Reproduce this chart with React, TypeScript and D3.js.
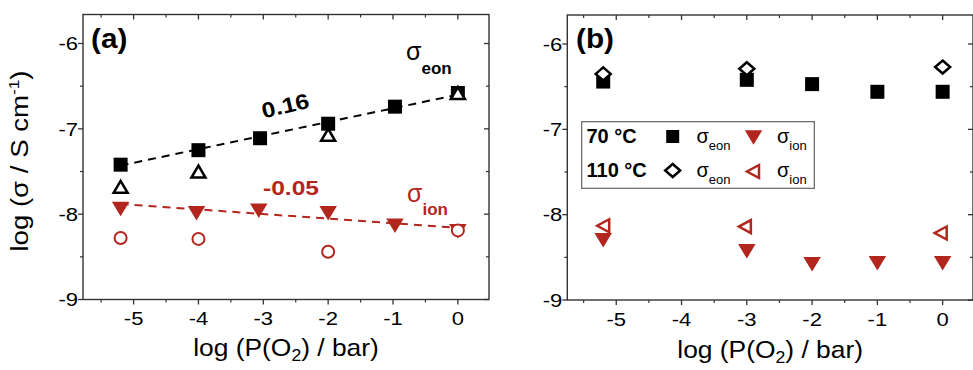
import React from "react";
import * as d3 from "d3";

const RED = "#b3261e";
const FONT = "'Liberation Sans', Arial, Helvetica, sans-serif";
const AXIS = "#333";

// ---------- Panel (a) data ----------
const aEonSqX = [-5.2, -4, -3.05, -2, -0.97, 0];
const aEonSqY = [-7.42, -7.25, -7.11, -6.94, -6.74, -6.58];
const aEonTriX = [-5.2, -4, -2, 0];
const aEonTriY = [-7.68, -7.5, -7.07, -6.58];
const aIonTriX = [-5.2, -4.03, -3.07, -2, -0.97, 0];
const aIonTriY = [-7.94, -7.99, -7.96, -7.99, -8.135, -8.2];
const aIonCircX = [-5.2, -4, -2, 0];
const aIonCircY = [-8.28, -8.29, -8.44, -8.19];
const aFitEonX = [-5.2, 0];
const aFitEonY = [-7.43, -6.6];
const aFitIonX = [-5.2, 0];
const aFitIonY = [-7.88, -8.16];
const slopeLabels = ["0.16", "-0.05"];

// ---------- Panel (b) data ----------
const bEon70X = [-5.2, -3, -2, -1, 0];
const bEon70Y = [-6.44, -6.42, -6.47, -6.56, -6.56];
const bEon110X = [-5.2, -3, 0];
const bEon110Y = [-6.35, -6.29, -6.27];
const bIon70X = [-5.2, -3, -2, -1, 0];
const bIon70Y = [-8.3, -8.43, -8.58, -8.57, -8.57];
const bIon110X = [-5.2, -3.03, -0.03];
const bIon110Y = [-8.13, -8.14, -8.215];
const legendTemps = ["70 °C", "110 °C"];

// ---------- ticks ----------
const xTicks = [-5, -4, -3, -2, -1, 0];
const xMinor = [-5.5, -4.5, -3.5, -2.5, -1.5, -0.5];
const yTicks = [-9, -8, -7, -6];
const yMinor = [-8.5, -7.5, -6.5];

// ---------- marker paths ----------
const sq = (s: number) => `M${-s / 2},${-s / 2}h${s}v${s}h${-s}Z`;
const triDown = (w: number, h: number) => `M${-w / 2},${-h / 2}L${w / 2},${-h / 2}L0,${h / 2}Z`;
const triUp = (w: number, h: number) => `M${-w / 2},${h / 2}L${w / 2},${h / 2}L0,${-h / 2}Z`;
const triLeft = (w: number, h: number) => `M${w / 2},${-h / 2}L${w / 2},${h / 2}L${-w / 2},0Z`;
const diamond = (w: number, h: number) => `M0,${-h / 2}L${w / 2},0L0,${h / 2}L${-w / 2},0Z`;

function T(props: any) {
  const { x, y, sx = 1, rot = 0, anchor = "start", size, weight = "normal", fill = "#000", children } = props;
  return (
    <g transform={`translate(${x},${y}) rotate(${rot}) scale(${sx},1)`}>
      <text textAnchor={anchor} fontSize={size} fontWeight={weight} fill={fill} fontFamily={FONT}>
        {children}
      </text>
    </g>
  );
}

function Marks(props: any) {
  const { xs, ys, x, y, d, fill, stroke = "none", sw = 0 } = props;
  return (
    <g>
      {xs.map((v: number, i: number) => (
        <path
          key={i}
          d={d}
          transform={`translate(${x(v)},${y(ys[i])})`}
          fill={fill}
          stroke={stroke}
          strokeWidth={sw}
          strokeLinejoin="miter"
        />
      ))}
    </g>
  );
}

function Frame(props: any) {
  const { x, y, L, R, Tp, B, titleY, tickLabelY } = props;
  const maj = 5;
  const min = 3;
  return (
    <g>
      <rect x={L} y={Tp} width={R - L} height={B - Tp} fill="none" stroke={AXIS} strokeWidth={1.4} />
      {xTicks.map((t) => (
        <g key={"xt" + t}>
          <line x1={x(t)} x2={x(t)} y1={B} y2={B + maj} stroke={AXIS} strokeWidth={1.3} />
          <line x1={x(t)} x2={x(t)} y1={Tp} y2={Tp + maj} stroke={AXIS} strokeWidth={1.3} />
          <T x={x(t)} y={tickLabelY} size={19} sx={1.16} anchor="middle">
            {t === 0 ? "0" : String(t)}
          </T>
        </g>
      ))}
      {xMinor.map((t) => (
        <g key={"xm" + t}>
          <line x1={x(t)} x2={x(t)} y1={B} y2={B + min} stroke={AXIS} strokeWidth={1.2} />
          <line x1={x(t)} x2={x(t)} y1={Tp} y2={Tp + min} stroke={AXIS} strokeWidth={1.2} />
        </g>
      ))}
      {yTicks.map((t) => (
        <g key={"yt" + t}>
          <line x1={L - maj} x2={L} y1={y(t)} y2={y(t)} stroke={AXIS} strokeWidth={1.3} />
          <line x1={R - maj} x2={R} y1={y(t)} y2={y(t)} stroke={AXIS} strokeWidth={1.3} />
          <T x={L - 5} y={y(t) + 6.8} size={19} sx={1.16} anchor="end">
            {String(t)}
          </T>
        </g>
      ))}
      {yMinor.map((t) => (
        <g key={"ym" + t}>
          <line x1={L - min} x2={L} y1={y(t)} y2={y(t)} stroke={AXIS} strokeWidth={1.2} />
          <line x1={R - min} x2={R} y1={y(t)} y2={y(t)} stroke={AXIS} strokeWidth={1.2} />
        </g>
      ))}
      <T x={(L + R) / 2} y={titleY} size={24} sx={1.1} anchor="middle">
        <tspan>log (P(O</tspan>
        <tspan fontSize={16} dy={5}>2</tspan>
        <tspan dy={-5}>) / bar)</tspan>
      </T>
    </g>
  );
}

export default function App() {
  // Panel (a)
  const aL = 83, aR = 489, aT = 14.5, aB = 299.5;
  const xa = d3.scaleLinear().domain([-5.78, 0.48]).range([aL, aR]);
  const ya = d3.scaleLinear().domain([-9, -5.66]).range([aB, aT]);
  // Panel (b)
  const bL = 567.3, bR = 973, bT = 15, bB = 300;
  const xb = d3.scaleLinear().domain([-5.75, 0.465]).range([bL, bR]);
  const yb = d3.scaleLinear().domain([-9, -5.66]).range([bB, bT]);

  const lineA = (xs: number[], ys: number[]) =>
    d3.line<number>().x((d) => xa(d)).y((_, i) => ya(ys[i]))(xs) || "";

  const sqP = sq(14);
  const tdP = triDown(17.5, 14.5);
  const tuP = triUp(14, 12);
  const tlP = triLeft(12, 13);
  const diP = diamond(15, 13);

  return (
    <svg
      width={973}
      height={370}
      viewBox="0 0 973 370"
      style={{ position: "absolute", left: 0, top: 0, background: "#fff" }}
    >
      <rect x={0} y={0} width={973} height={370} fill="#fff" />

      {/* ----- Panel (a) ----- */}
      <Frame x={xa} y={ya} L={aL} R={aR} Tp={aT} B={aB} titleY={356} tickLabelY={325} />
      <T x={28} y={161} rot={-90} size={24} sx={1.15} anchor="middle">
        <tspan>log (σ / S cm</tspan>
        <tspan fontSize={15} dy={-9}>-1</tspan>
        <tspan dy={9}>)</tspan>
      </T>
      <T x={91} y={47.5} size={27} sx={1.1} weight="bold">(a)</T>

      <path d={lineA(aFitEonX, aFitEonY)} fill="none" stroke="#000" strokeWidth={2} strokeDasharray="8,6" />
      <path d={lineA(aFitIonX, aFitIonY)} fill="none" stroke={RED} strokeWidth={2} strokeDasharray="8,6" />

      <Marks xs={aEonSqX} ys={aEonSqY} x={xa} y={ya} d={sqP} fill="#000" />
      <Marks xs={aIonTriX} ys={aIonTriY} x={xa} y={ya} d={tdP} fill={RED} />
      <Marks xs={aEonTriX} ys={aEonTriY} x={xa} y={ya} d={tuP} fill="#fff" stroke="#000" sw={2.5} />
      <g>
        {aIonCircX.map((v, i) => (
          <circle key={i} cx={xa(v)} cy={ya(aIonCircY[i])} r={6} fill="#fff" stroke={RED} strokeWidth={2} />
        ))}
      </g>

      <T x={287} y={113} rot={-13} size={21.5} sx={1.15} weight="bold" anchor="middle">{slopeLabels[0]}</T>
      <T x={291} y={195} size={21} sx={1.17} weight="bold" anchor="middle" fill={RED}>{slopeLabels[1]}</T>

      <T x={406} y={60} size={25}>
        <tspan>σ</tspan>
        <tspan fontSize={17} fontWeight="bold" dy={14}>eon</tspan>
      </T>
      <T x={407} y={202} size={25} fill={RED}>
        <tspan>σ</tspan>
        <tspan fontSize={17} fontWeight="bold" dy={13}>ion</tspan>
      </T>

      {/* ----- Panel (b) ----- */}
      <Frame x={xb} y={yb} L={bL} R={bR} Tp={bT} B={bB} titleY={358} tickLabelY={325.7} />
      <T x={576} y={47.5} size={27} sx={1.1} weight="bold">(b)</T>

      <Marks xs={bEon70X} ys={bEon70Y} x={xb} y={yb} d={sqP} fill="#000" />
      <Marks xs={bEon110X} ys={bEon110Y} x={xb} y={yb} d={diP} fill="#fff" stroke="#000" sw={2.5} />
      <Marks xs={bIon70X} ys={bIon70Y} x={xb} y={yb} d={tdP} fill={RED} />
      <Marks xs={bIon110X} ys={bIon110Y} x={xb} y={yb} d={tlP} fill="#fff" stroke={RED} sw={2.5} />

      {/* legend */}
      <rect x={581.7} y={121.7} width={232.6} height={66.6} fill="#fff" stroke="#555" strokeWidth={1.1} />
      <T x={586.5} y={143} size={20} weight="bold">{legendTemps[0]}</T>
      <T x={586.5} y={176.7} size={20} weight="bold">{legendTemps[1]}</T>
      <path d={sq(13)} transform="translate(672.7,136.5)" fill="#000" />
      <path d={diP} transform="translate(672.7,170.5)" fill="#fff" stroke="#000" strokeWidth={2.5} />
      <path d={tdP} transform="translate(753.5,137.5)" fill={RED} />
      <path d={tlP} transform="translate(753,171.5)" fill="#fff" stroke={RED} strokeWidth={2.5} />
      <T x={696.5} y={143} size={20}>
        <tspan>σ</tspan>
        <tspan fontSize={13} dy={7}>eon</tspan>
      </T>
      <T x={777} y={143} size={20}>
        <tspan>σ</tspan>
        <tspan fontSize={13} dy={7}>ion</tspan>
      </T>
      <T x={696.5} y={176.7} size={20}>
        <tspan>σ</tspan>
        <tspan fontSize={13} dy={7}>eon</tspan>
      </T>
      <T x={777} y={176.7} size={20}>
        <tspan>σ</tspan>
        <tspan fontSize={13} dy={7}>ion</tspan>
      </T>
    </svg>
  );
}
